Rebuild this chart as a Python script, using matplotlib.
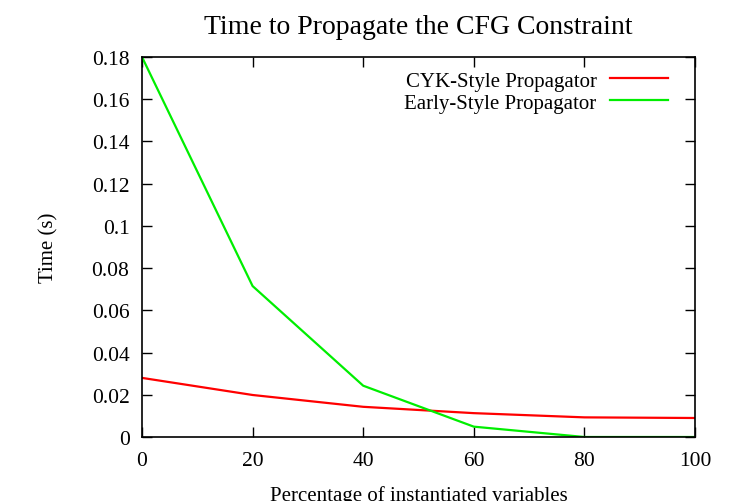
import matplotlib
matplotlib.use("Agg")
import matplotlib.pyplot as plt

x = [0, 20, 40, 60, 80, 100]
cyk = [0.0280, 0.0199, 0.0143, 0.0113, 0.0093, 0.0090]
early = [0.180, 0.0715, 0.0243, 0.0049, 0.0, 0.0]
xticks = [0, 20, 40, 60, 80, 100]
yticks = [0, 0.02, 0.04, 0.06, 0.08, 0.1, 0.12, 0.14, 0.16, 0.18]
ytick_labels = ["0", "0.02", "0.04", "0.06", "0.08", "0.1", "0.12", "0.14", "0.16", "0.18"]

plt.rcParams['font.family'] = ['Liberation Serif', 'DejaVu Serif']
fig = plt.figure(figsize=(7.38, 5.02), dpi=100)
ax = fig.add_axes([142/738, 64/502, (695-142)/738, (438-58)/502])

ax.plot(x, cyk, color='#ff0000', lw=1.6, label='CYK-Style Propagator')
ax.plot(x, early, color='#00ee00', lw=1.6, label='Early-Style Propagator')

ax.set_xlim(0, 100)
ax.set_ylim(0, 0.18)
ax.set_xticks(xticks)
ax.set_yticks(yticks)
ax.set_yticklabels(ytick_labels)
ax.tick_params(direction='in', length=7, width=1, top=True, right=True, labelsize=15.5)
ax.tick_params(axis='x', pad=10)
ax.tick_params(axis='y', pad=9)
for s in ax.spines.values():
    s.set_linewidth(1.2)

ax.set_title('Time to Propagate the CFG Constraint', fontsize=20, pad=17)
ax.set_xlabel('Percentage of instantiated variables', fontsize=15, labelpad=11)
ax.set_ylabel('Time (s)', fontsize=15, labelpad=24)

leg = ax.legend(loc='upper right', bbox_to_anchor=(0.967, 0.985), frameon=False,
                markerfirst=False, fontsize=15,
                handlelength=2.8, handletextpad=0.65, labelspacing=0.12,
                borderaxespad=0.0)

fig.savefig('out.png', dpi=100)
